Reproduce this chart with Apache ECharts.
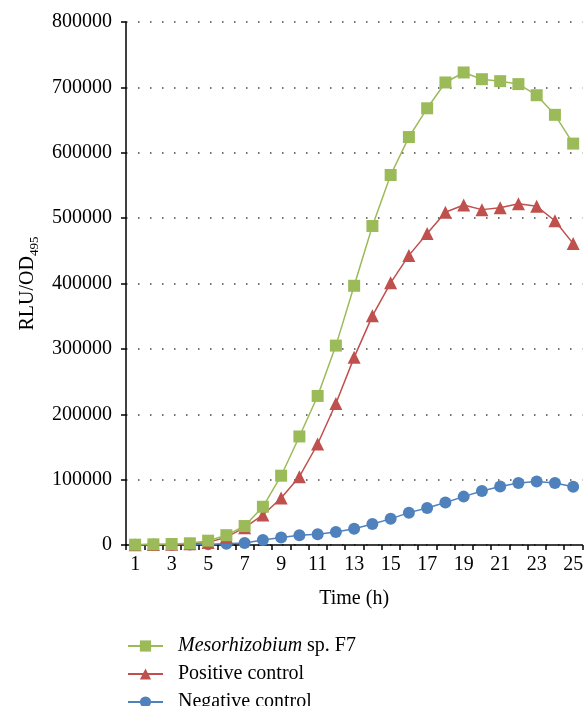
<!DOCTYPE html>
<html>
<head>
<meta charset="utf-8">
<script src="https://cdn.jsdelivr.net/npm/echarts@6/dist/echarts.min.js"></script>
<style>
html,body{margin:0;padding:0;background:#fff;}
#chart{width:586px;height:706px;}
</style>
</head>
<body>
<div id="chart"></div>
<script>
const hours = ['1','2','3','4','5','6','7','8','9','10','11','12','13','14','15','16','17','18','19','20','21','22','23','24','25'];
const yTicks = [0,100000,200000,300000,400000,500000,600000,700000,800000];
const meso = [500,1000,1500,2600,6600,15000,29000,58500,106000,166000,228000,305000,396500,488000,566000,624000,668000,707500,722800,712500,709500,705000,688000,658000,614000];
const positive = [300,600,1000,2000,4000,12000,26500,46000,72000,104500,154500,216500,287000,350500,401000,443000,476500,509000,520000,513000,516000,522000,518000,496000,461000];
const negative = [0,200,400,600,1000,2000,3000,7500,11500,15000,16500,20000,25000,32000,40000,49500,56500,65000,74000,82500,89500,95000,97000,95000,89000];
const seriesNames = ['Mesorhizobium sp. F7','Positive control','Negative control'];

const FONT = '"Liberation Serif", "Times New Roman", serif';
const legendTextStyle = {fontFamily:FONT, fontSize:20, color:'#000', padding:[0,0,0,10],
  rich:{i:{fontFamily:FONT, fontSize:20, fontStyle:'italic', color:'#000'}}};
function legendFor(idx, top){
  return {orient:'vertical', left:122, top:top, itemWidth:35, itemHeight:14,
    data:[seriesNames[idx]], textStyle:legendTextStyle,
    formatter:function(n){ return n === seriesNames[0] ? '{i|Mesorhizobium} sp. F7' : n; }};
}
const chart = echarts.init(document.getElementById('chart'), null, {renderer:'canvas'});
chart.setOption({
  animation:false,
  textStyle:{fontFamily:FONT, color:'#000'},
  grid:{left:126, top:22, bottom:161, right:-5, containLabel:false},
  legend:[legendFor(0,631), legendFor(1,659), legendFor(2,687)],
  xAxis:{
    type:'category', data:hours, boundaryGap:true,
    name:'Time (h)', nameLocation:'middle', nameGap:44,
    nameTextStyle:{fontFamily:FONT, fontSize:20, color:'#000'},
    axisLine:{lineStyle:{color:'#000', width:1.5}},
    axisTick:{show:true, interval:0, length:5, lineStyle:{color:'#000', width:1.5}},
    axisLabel:{interval:1, margin:10, fontFamily:FONT, fontSize:20, color:'#000'},
    splitLine:{show:false}
  },
  yAxis:{
    type:'value', min:yTicks[0], max:yTicks[yTicks.length-1], interval:100000,
    name:'{a|RLU/OD}{b|495}', nameLocation:'middle', nameGap:80, nameRotate:90,
    nameTextStyle:{fontFamily:FONT, fontSize:20, color:'#000',
      rich:{a:{fontFamily:FONT, fontSize:20, color:'#000', lineHeight:26, verticalAlign:'middle'},
            b:{fontFamily:FONT, fontSize:13, color:'#000', lineHeight:26, verticalAlign:'bottom'}}},
    axisLine:{show:true, lineStyle:{color:'#000', width:1.5}},
    axisTick:{show:true, length:5, lineStyle:{color:'#000', width:1.5}},
    axisLabel:{margin:14, fontFamily:FONT, fontSize:20, color:'#000', formatter:function(v){return String(v);}},
    splitLine:{show:true, lineStyle:{color:'#444', width:1.5, type:[1.5,10.5]}}
  },
  series:[
    {name:seriesNames[2], type:'line', data:negative, symbol:'circle', symbolSize:12, showAllSymbol:true,
     itemStyle:{color:'#4F81BD'}, lineStyle:{color:'#4F81BD', width:1.5}, z:2},
    {name:seriesNames[1], type:'line', data:positive, symbol:'triangle', symbolSize:13, showAllSymbol:true,
     itemStyle:{color:'#C0504D'}, lineStyle:{color:'#C0504D', width:1.5}, z:3},
    {name:seriesNames[0], type:'line', data:meso, symbol:'rect', symbolSize:12, showAllSymbol:true,
     itemStyle:{color:'#9BBB59'}, lineStyle:{color:'#9BBB59', width:1.5}, z:4}
  ]
});
</script>
</body>
</html>
